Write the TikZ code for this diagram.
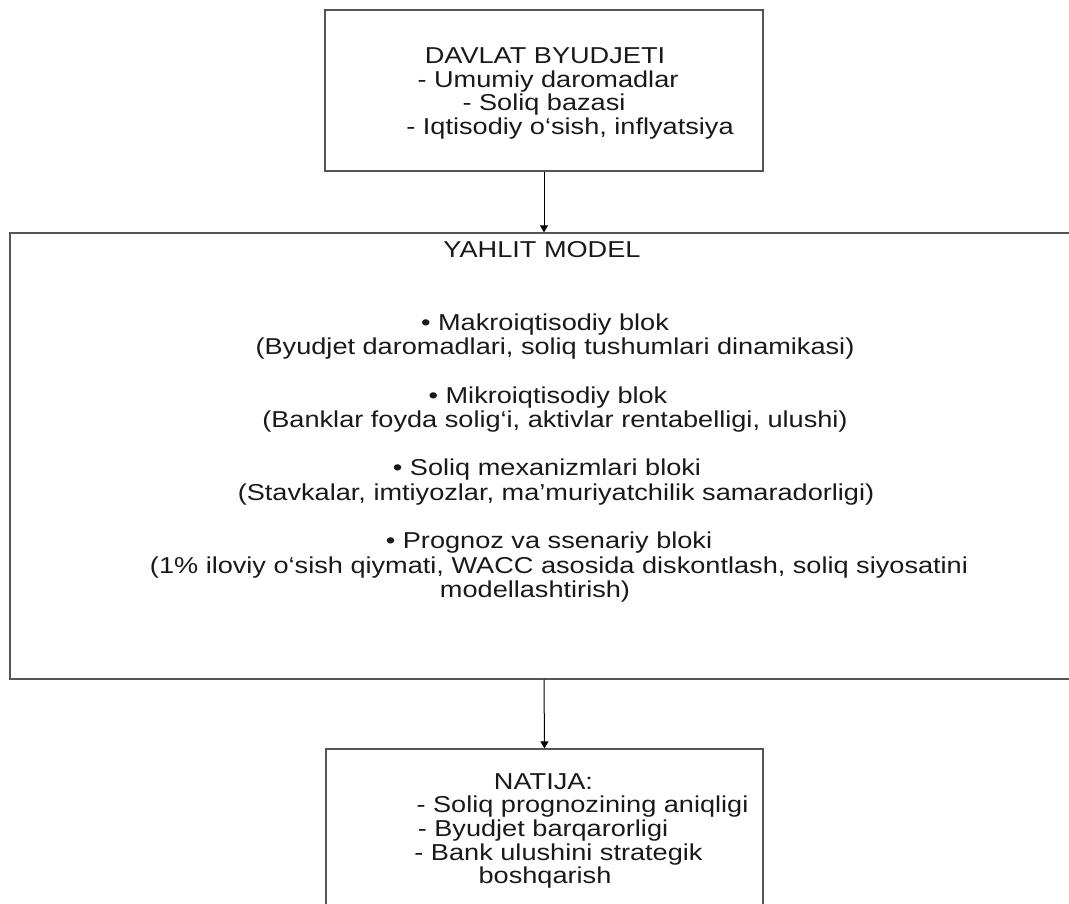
\documentclass[tikz,border=0pt]{standalone}
\usepackage{fontspec}
\setmainfont{Liberation Sans}[FakeStretch=1.18]
\usetikzlibrary{arrows.meta}
\definecolor{edge}{RGB}{85,85,85}
\definecolor{ink}{RGB}{25,25,25}
\begin{document}
\begin{tikzpicture}[x=1pt,y=1pt,
  box/.style={draw=edge, line width=1.3pt, rectangle, inner sep=0pt},
  txt/.style={anchor=base, inner sep=0pt, font=\fontsize{23}{24}\selectfont, text=ink},
  arr/.style={draw=black, line width=1pt, -{Triangle[width=8pt,length=7pt]}}]
\useasboundingbox (0,0) rectangle (1069,-903);
\clip (0,0) rectangle (1069,-903);
% boxes
\node[box, minimum width=438pt, minimum height=161pt] (top) at (544,-90.5) {};
\node[box, minimum width=1068pt, minimum height=446pt] (mid) at (544,-456) {};
\node[box, minimum width=437pt, minimum height=200pt] (res) at (544.5,-849) {};
% connectors
\draw[arr] (top.south) -- (mid.north);
\draw[arr] (mid.south) -- (res.north);
% top box text
\node[txt] (t1) at (545,-63) {DAVLAT BYUDJETI};
\node[txt] (t2) at (548,-87) {- Umumiy daromadlar};
\node[txt] (t3) at (544,-110.5) {- Soliq bazasi};
\node[txt] (t4) at (570,-134) {- Iqtisodiy o‘sish, inflyatsiya};
% middle box text
\node[txt] (m0) at (542,-257) {YAHLIT MODEL};
\node[txt] (m1) at (545,-330) {• Makroiqtisodiy blok};
\node[txt] (m2) at (555,-354.5) {(Byudjet daromadlari, soliq tushumlari dinamikasi)};
\node[txt] (m3) at (548,-403) {• Mikroiqtisodiy blok};
\node[txt] (m4) at (555,-427) {(Banklar foyda solig‘i, aktivlar rentabelligi, ulushi)};
\node[txt] (m5) at (547,-475.5) {• Soliq mexanizmlari bloki};
\node[txt] (m6) at (556,-500) {(Stavkalar, imtiyozlar, ma’muriyatchilik samaradorligi)};
\node[txt] (m7) at (549,-548.5) {• Prognoz va ssenariy bloki};
\node[txt] (m8) at (559,-573) {(1\% iloviy o‘sish qiymati, WACC asosida diskontlash, soliq siyosatini};
\node[txt] (m9) at (535,-597) {modellashtirish)};
% bottom box text
\node[txt] (b1) at (543.5,-789) {NATIJA:};
\node[txt] (b2) at (582.5,-812.5) {- Soliq prognozining aniqligi};
\node[txt] (b3) at (543,-836) {- Byudjet barqarorligi};
\node[txt] (b4) at (558.5,-860) {- Bank ulushini strategik};
\node[txt] (b5) at (545,-883.5) {boshqarish};
\end{tikzpicture}
\end{document}
